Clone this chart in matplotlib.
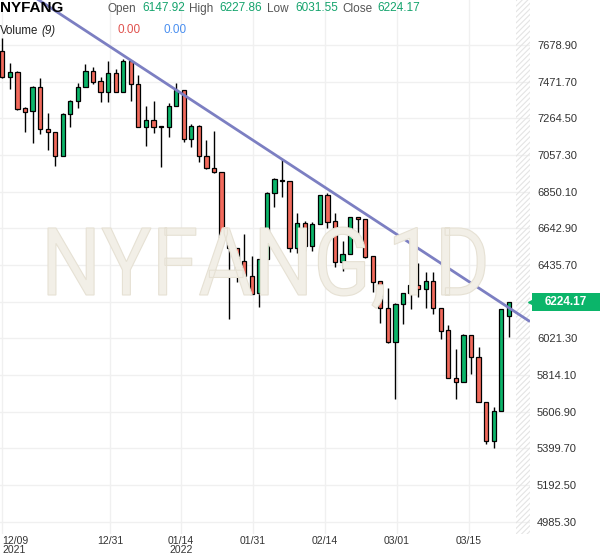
import matplotlib
matplotlib.use('Agg')
import matplotlib.pyplot as plt
from matplotlib.textpath import TextPath
from matplotlib.patches import PathPatch, Rectangle
from matplotlib.font_manager import FontProperties
from matplotlib.transforms import Affine2D, IdentityTransform, blended_transform_factory

plt.rcParams['font.family'] = ['Liberation Sans', 'DejaVu Sans']
plt.rcParams['hatch.linewidth'] = 0.8

# daily OHLC, NYFANG, 12/09/2021 .. mid March 2022
opens = [7645, 7498, 7526, 7323, 7306, 7442, 7204, 7187, 7052, 7289,
         7362, 7442, 7532, 7475, 7413, 7521, 7413, 7588, 7458, 7216,
         7255, 7221, 7216, 7334, 7425, 7148, 7221, 7052, 6984, 6961,
         6594, 6532, 6458, 6374, 6278, 6470, 6843, 6916, 6910, 6532,
         6673, 6543, 6667, 6831, 6684, 6453, 6498, 6707, 6696, 6487,
         6345, 6193, 6001, 6215, 6278, 6323, 6300, 6345, 6193, 6068,
         5797, 5775, 6040, 5916, 5662, 5441, 5611, 6147.92]
highs = [7720, 7577, 7530, 7329, 7447, 7492, 7295, 7187, 7295, 7368,
         7464, 7572, 7555, 7498, 7588, 7543, 7600, 7594, 7509, 7334,
         7362, 7221, 7351, 7464, 7425, 7232, 7227, 7142, 7193, 6961,
         6594, 6532, 6611, 6487, 6470, 6848, 6927, 7035, 6910, 6730,
         6684, 6679, 6831, 6843, 6730, 6571, 6707, 6707, 6696, 6487,
         6345, 6306, 6221, 6278, 6357, 6447, 6396, 6396, 6193, 6097,
         5961, 6046, 6040, 5972, 5662, 5633, 6187, 6227.86]
lows = [7490, 7430, 7311, 7187, 7125, 7176, 7086, 6995, 7052, 7216,
        7323, 7442, 7458, 7357, 7357, 7413, 7413, 7362, 7216, 7108,
        7182, 6990, 7159, 7334, 7131, 7103, 7018, 6978, 6956, 6588,
        6131, 6340, 6295, 6272, 6198, 6470, 6763, 6820, 6509, 6504,
        6515, 6515, 6667, 6645, 6424, 6402, 6498, 6594, 6475, 6283,
        6108, 5995, 5679, 6102, 6187, 6255, 6193, 6159, 6018, 5797,
        5679, 5775, 5820, 5662, 5424, 5402, 5611, 6031.55]
closes = [7498, 7526, 7317, 7300, 7442, 7204, 7187, 7052, 7289, 7362,
          7442, 7532, 7470, 7413, 7521, 7413, 7588, 7458, 7216, 7255,
          7216, 7218, 7334, 7425, 7148, 7221, 7052, 6984, 6961, 6588,
          6532, 6396, 6374, 6272, 6470, 6843, 6922, 6910, 6532, 6673,
          6543, 6667, 6831, 6679, 6453, 6498, 6707, 6696, 6481, 6340,
          6193, 6001, 6215, 6278, 6323, 6300, 6345, 6193, 6063, 5797,
          5775, 6040, 5916, 5662, 5441, 5611, 6187, 6224.17]

date_labels = ['12/09\n2021', '12/31', '01/14\n2022', '01/31', '02/14', '03/01', '03/15']
date_pos = [0, 14.25, 23.64, 33.16, 42.69, 52.2, 61.73]   # bar index of each date tick

price_ticks = [4985.30, 5192.50, 5399.70, 5606.90, 5814.10, 6021.30, 6228.50,
               6435.70, 6642.90, 6850.10, 7057.30, 7264.50, 7471.70, 7678.90]

# drawn trend line (bar index, price)
trend_x = [0, 69.8]
trend_p = [8068, 6116]

last_close = closes[-1]

GREEN = '#0bb56a'
RED = '#f26a5c'

fig = plt.figure(figsize=(6.01, 5.58), dpi=100)
ax = fig.add_axes([0, 24.5 / 558, 530 / 601, 533.5 / 558])

x = list(range(len(opens)))
up = [c >= o for o, c in zip(opens, closes)]
colors = [GREEN if u else RED for u in up]
bottoms = [min(o, c) for o, c in zip(opens, closes)]
heights = [max(abs(c - o), 2) for o, c in zip(opens, closes)]

ax.vlines(x, lows, highs, color='black', lw=1.0, zorder=3)
ax.bar(x, heights, bottom=bottoms, width=0.56, color=colors,
       edgecolor='black', linewidth=0.9, zorder=4)

ax.plot(trend_x, trend_p, color='#7c7fc2', lw=2.0, zorder=5, solid_capstyle='butt')

ax.set_xlim(-0.304, 69.8)
ax.set_ylim(4918.7, 7933.2)

# future area hatch
ax.axvspan(67.95, 69.8, facecolor='none', edgecolor='#e4e4e4', hatch='//////', lw=0, zorder=1)

ax.set_xticks(date_pos)
ax.set_xticklabels(date_labels)
ax.set_yticks(price_ticks)
ax.set_yticklabels(['' if abs(p - 6228.5) < 0.1 else f'{p:.2f}' for p in price_ticks])
ax.yaxis.tick_right()
ax.tick_params(axis='y', length=0, pad=5, labelsize=8, labelcolor='#333333')
ax.tick_params(axis='x', length=0, pad=2, labelsize=7.5, labelcolor='#333333')
for i, lbl in enumerate(ax.get_xticklabels()):
    lbl.set_linespacing(0.85)
    if i == 0:
        lbl.set_horizontalalignment('left')
        lbl.set_multialignment('left')
for s in ax.spines.values():
    s.set_visible(False)
ax.grid(True, color='#f0f0f0', lw=1.0)
ax.set_axisbelow(True)

# watermark, fitted to its box in pixels
fp = FontProperties(family='Roboto', weight='normal')
tp = TextPath((0, 0), 'NYFANG,1D', size=100, prop=fp)
cap = TextPath((0, 0), 'N', size=100, prop=fp).get_extents()
ext = tp.get_extents()
sx = (485 - 48) / (ext.x1 - ext.x0)
sy = (295 - 228) / (cap.y1 - cap.y0)
tr = Affine2D().translate(-ext.x0, 0).scale(sx, sy).translate(48, 558 - 295)
wm = PathPatch(tp, transform=tr + IdentityTransform(), facecolor='#f2efe7',
               edgecolor='#e6e1d4', lw=0.8, zorder=0.6)
fig.patches.append(wm)

# current price tag
bt = blended_transform_factory(ax.transAxes, ax.transData)
box = Rectangle((1.004, last_close - 51), 0.128, 102, transform=bt,
                facecolor=GREEN, edgecolor=GREEN, lw=0, clip_on=False, zorder=6)
ax.add_patch(box)
ax.plot([1.002], [last_close], marker='<', ms=5, color=GREEN, transform=bt,
        clip_on=False, zorder=6)
ax.text(1.068, last_close, f'{last_close:.2f}', transform=bt, ha='center', va='center',
        color='white', fontsize=8.5, fontweight='bold', zorder=7)

# header
def px(xp, yp):
    return xp / 601, 1 - yp / 558

fig.text(*px(0, 8), 'NYFANG', fontsize=11, fontweight='bold', va='center', color='black')
hdr = [('Open', '6147.92', 107, 142), ('High', '6227.86', 189, 219),
       ('Low', '6031.55', 267, 295), ('Close', '6224.17', 342, 377)]
for name, val, xn, xv in hdr:
    fig.text(*px(xn, 9), name, fontsize=8.5, va='center', color='#555555')
    fig.text(*px(xv, 8), val, fontsize=8.5, va='center', color='#13a36c')
fig.text(*px(0, 31), 'Volume', fontsize=8.3, va='center', color='#222222')
fig.text(*px(41, 31), '(9)', fontsize=8.3, va='center', color='#222222', style='italic')
fig.text(*px(117, 30), '0.00', fontsize=8.5, va='center', color='#e0524e')
fig.text(*px(163, 30), '0.00', fontsize=8.5, va='center', color='#4a8ff0')

fig.savefig('out.png', dpi=100)
